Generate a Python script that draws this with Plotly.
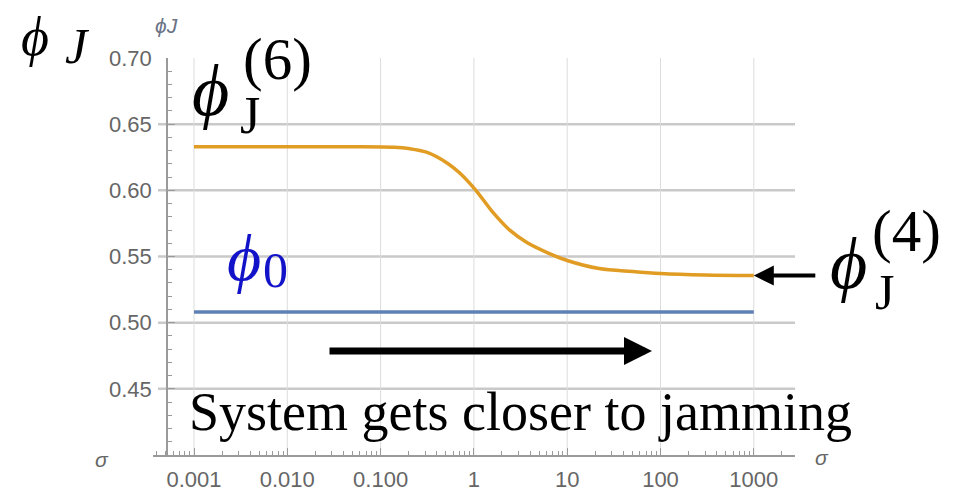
import plotly.graph_objects as go

# Jamming density phi_J as a function of sigma (log scale)
sigma = [0.001, 0.01, 0.05, 0.14, 0.2, 0.31, 0.52, 0.71, 1.05, 1.6, 2.44, 3.7, 6.1, 10,
         22, 50, 100, 300, 1000]
phi_j = [0.633, 0.633, 0.633, 0.6326, 0.6316, 0.6288, 0.6205, 0.6129, 0.6000, 0.5833, 0.5697,
         0.5606, 0.5530, 0.5470, 0.5409, 0.5386, 0.5371, 0.5360, 0.5356]

# Random loose packing density phi_0 (constant)
sigma_0 = [0.001, 1000]
phi_0 = [0.508, 0.508]

x_tickvals = [0.001, 0.01, 0.1, 1, 10, 100, 1000]
x_ticktext = ["0.001", "0.010", "0.100", "1", "10", "100", "1000"]
y_tickvals = [0.45, 0.50, 0.55, 0.60, 0.65, 0.70]
y_ticktext = ["0.45", "0.50", "0.55", "0.60", "0.65", "0.70"]

W, H = 956, 494
ML, MR, MT, MB = 153, 161, 58, 39
PW, PH = W - ML - MR, H - MT - MB

ORANGE = "#E19C24"
BLUE = "#5E81B5"
GRAY_TXT = "#666666"
AXIS = "#9a9a9a"
SERIF = "Liberation Serif, Times New Roman, DejaVu Serif, serif"
SANS = "Liberation Sans, Arial, sans-serif"


def fx(px):
    return (px - ML) / PW


def fy(py):
    return (MT + PH - py) / PH


fig = go.Figure()
fig.add_trace(go.Scatter(x=sigma_0, y=phi_0, mode="lines",
                         line=dict(color=BLUE, width=3.5), hoverinfo="skip"))
fig.add_trace(go.Scatter(x=sigma, y=phi_j, mode="lines",
                         line=dict(color=ORANGE, width=3.5, shape="spline", smoothing=0.9),
                         hoverinfo="skip"))

shapes = []
# horizontal grid lines
for v in y_tickvals[:-1]:
    shapes.append(dict(type="line", xref="paper", yref="y", x0=fx(158), x1=1, y0=v, y1=v,
                       line=dict(color="#c9c9c9", width=2.5), layer="below"))
# vertical grid lines at the decades
for v in x_tickvals:
    shapes.append(dict(type="line", xref="x", yref="paper", x0=v, x1=v, y0=0, y1=1,
                       line=dict(color="#dcdcdc", width=1), layer="below"))

ann = []


def text(x, y, s, size, color="black", family=SERIF, xanchor="center"):
    ann.append(dict(x=fx(x), y=fy(y), xref="paper", yref="paper", text=s, showarrow=False,
                    xanchor=xanchor, yanchor="middle",
                    font=dict(size=size, color=color, family=family)))


# axis labels
text(35, 37, "<i>ϕ</i>", 54)
text(77, 46, "<i>J</i>", 50)
text(166, 25, "<i>ϕ</i><i>J</i>", 21, "#6a7386", SANS)
text(102, 459, "<i>σ</i>", 21, GRAY_TXT, SANS)
text(822, 457, "<i>σ</i>", 21, GRAY_TXT, SANS)

# phi_J^(6)
text(210, 91, "<i>ϕ</i>", 72)
text(250, 115, "J", 52)
text(277, 59, "(6)", 59)

# phi_0
text(244, 257, "<i>ϕ</i>", 66, "#1212c8")
text(275, 270, "0", 50, "#1212c8")

# phi_J^(4)
text(848, 264, "<i>ϕ</i>", 72)
text(884, 292, "J", 50)
text(906, 231, "(4)", 59)

# caption
text(520, 412, "System gets closer to jamming", 54)

# arrow towards the plateau of phi_J
ann.append(dict(x=3, y=phi_j[-1], xref="x", yref="y", ax=63, ay=0, axref="pixel", ayref="pixel",
                text="", showarrow=True, arrowhead=2, arrowsize=1.0, arrowwidth=4, arrowcolor="black"))
# long arrow: direction of increasing sigma
ann.append(dict(x=fx(652), y=fy(351), xref="paper", yref="paper", ax=-324, ay=0,
                axref="pixel", ayref="pixel", text="", showarrow=True, arrowhead=2,
                arrowsize=0.8, arrowwidth=7, arrowcolor="black"))

fig.update_layout(
    width=W, height=H,
    margin=dict(l=ML, r=MR, t=MT, b=MB, autoexpand=False),
    paper_bgcolor="white", plot_bgcolor="white",
    showlegend=False,
    shapes=shapes,
    annotations=ann,
    xaxis=dict(type="log", range=[-3.4394, 3.4416], showgrid=False, zeroline=False,
               automargin=False,
               showline=True, linecolor=AXIS, linewidth=1.5,
               tickvals=x_tickvals, ticktext=x_ticktext,
               ticks="inside", ticklen=7, tickcolor=AXIS, tickwidth=1,
               minor=dict(ticks="inside", ticklen=4, tickcolor=AXIS, dtick="D1", showgrid=False),
               tickfont=dict(size=22, color=GRAY_TXT, family=SANS), ticklabelstandoff=4),
    yaxis=dict(range=[0.40, 0.70], showgrid=False, zeroline=False,
               automargin=False,
               anchor="free", position=fx(167),
               showline=True, linecolor=AXIS, linewidth=1.5,
               tickvals=y_tickvals, ticktext=y_ticktext,
               ticks="inside", ticklen=7, tickcolor=AXIS, tickwidth=1,
               minor=dict(ticks="inside", ticklen=4, tickcolor=AXIS, dtick=0.01, showgrid=False),
               tickfont=dict(size=22, color=GRAY_TXT, family=SANS), ticklabelstandoff=10),
)

fig.write_html("out.html")
